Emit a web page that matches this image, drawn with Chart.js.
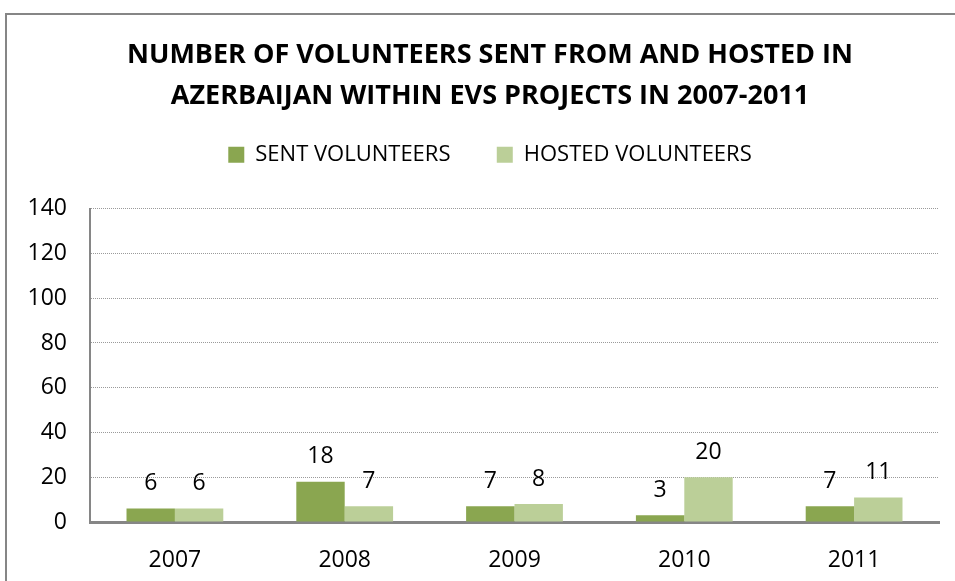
<!DOCTYPE html>
<html>
<head>
<meta charset="utf-8">
<script src="https://cdn.jsdelivr.net/npm/chart.js@4/dist/chart.umd.min.js"></script>
<style>
    html, body { margin: 0; padding: 0; background: #fff; overflow: hidden; }
    #wrap { position: relative; width: 955px; height: 581px; overflow: hidden; }
    #frame { position: absolute; left: 5px; top: 13px; width: 1000px; height: 700px;
             border: 2px solid #868686; box-sizing: border-box; }
    #chart { position: absolute; left: 0; top: 0; }
</style>
</head>
<body>
<div id="wrap">
    <div id="frame"></div>
    <canvas id="chart" width="980" height="581"></canvas>
</div>
<script>
// data
const years = ['2007', '2008', '2009', '2010', '2011'];
const sentVolunteers = [6, 18, 7, 3, 7];
const hostedVolunteers = [6, 7, 8, 20, 11];
const yTicks = [0, 20, 40, 60, 80, 100, 120, 140];

const FONT = '"Open Sans", "Liberation Sans", sans-serif';

// value labels drawn above every bar
const valueLabels = {
    id: 'valueLabels',
    afterDatasetsDraw(chart) {
        const ctx = chart.ctx;
        ctx.save();
        ctx.font = '23px ' + FONT;
        ctx.fillStyle = '#000';
        ctx.textAlign = 'center';
        ctx.textBaseline = 'middle';
        chart.data.datasets.forEach((ds, i) => {
            chart.getDatasetMeta(i).data.forEach((bar, j) => {
                ctx.fillText(ds.data[j], bar.x, bar.y - 25);
            });
        });
        ctx.restore();
    }
};

const ctx = document.getElementById('chart').getContext('2d');

new Chart(ctx, {
    type: 'bar',
    data: {
        labels: years,
        datasets: [
            {
                label: 'SENT VOLUNTEERS',
                data: sentVolunteers,
                backgroundColor: '#8aa650',
            },
            {
                label: 'HOSTED VOLUNTEERS',
                data: hostedVolunteers,
                backgroundColor: '#bbcf98',
            }
        ]
    },
    options: {
        responsive: false,
        animation: false,
        layout: { padding: 0 },
        datasets: {
            bar: { categoryPercentage: 0.57, barPercentage: 1.0 }
        },
        plugins: {
            title: {
                display: true,
                text: ['NUMBER OF VOLUNTEERS SENT FROM AND HOSTED IN',
                       'AZERBAIJAN WITHIN EVS PROJECTS IN 2007-2011'],
                color: '#000',
                font: { family: FONT, size: 27, weight: 'bold', lineHeight: 1.55 },
                padding: { top: 34, bottom: 14 }
            },
            // empty subtitle used as a spacer between legend and plot
            subtitle: {
                display: true,
                text: '',
                weight: 500,
                font: { size: 1, lineHeight: 1 },
                padding: { top: 32, bottom: 0 }
            },
            legend: {
                position: 'top',
                labels: {
                    color: '#000',
                    font: { family: FONT, size: 22 },
                    boxWidth: 16,
                    boxHeight: 16,
                    padding: 12,
                    generateLabels(chart) {
                        const items = Chart.defaults.plugins.legend.labels.generateLabels(chart);
                        items.forEach((it, i) => {
                            it.lineWidth = 0;
                            if (i === 0) it.text = it.text + '      ';
                        });
                        return items;
                    }
                }
            },
            tooltip: { enabled: false }
        },
        scales: {
            x: {
                grid: { display: false },
                border: { display: true, color: '#868686', width: 3 },
                ticks: { color: '#000', font: { family: FONT, size: 23 }, padding: 17 },
                afterFit(scale) { scale.height = 59; }
            },
            y: {
                min: 0,
                max: 140,
                afterBuildTicks(scale) { scale.ticks = yTicks.map(v => ({ value: v })); },
                grid: { color: '#9a9a9a', lineWidth: 1, drawTicks: false },
                border: { display: true, color: '#868686', width: 2, dash: [1, 1] },
                ticks: { color: '#000', font: { family: FONT, size: 23 }, padding: 23 },
                afterFit(scale) { scale.width = 90; }
            },
            // invisible right axis that keeps the plot clear of the right edge
            yRight: {
                position: 'right',
                display: true,
                grid: { display: false },
                border: { display: false },
                ticks: { display: false },
                afterFit(scale) { scale.width = 41; }
            }
        }
    },
    plugins: [valueLabels]
});
</script>
</body>
</html>
